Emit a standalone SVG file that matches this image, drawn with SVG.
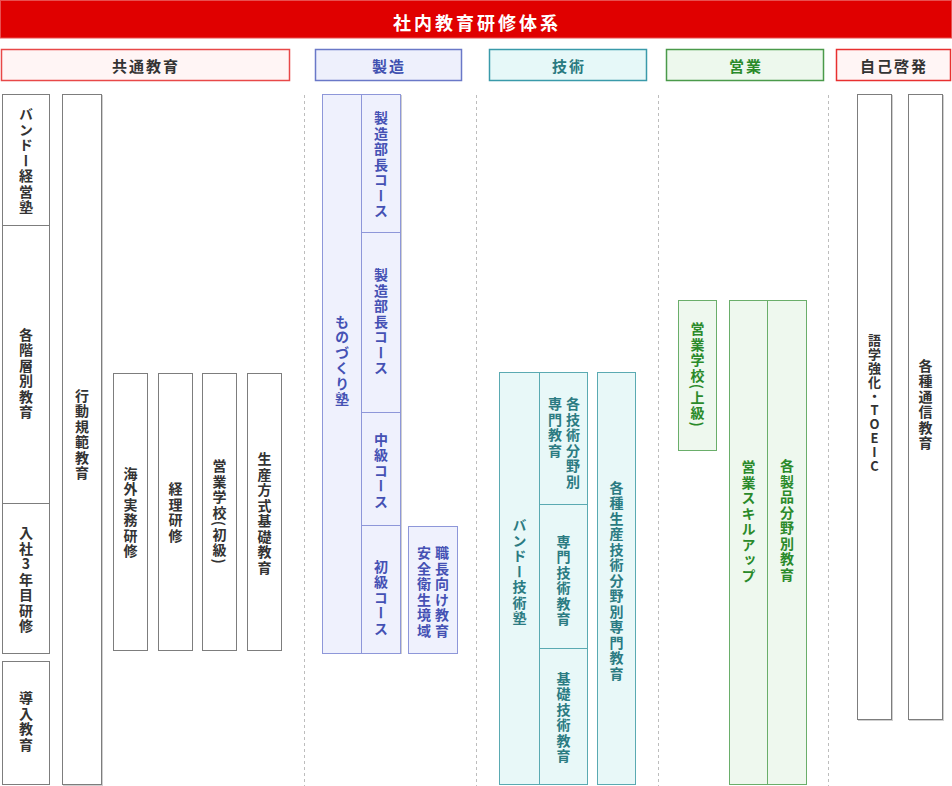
<svg xmlns="http://www.w3.org/2000/svg" width="952" height="786" viewBox="0 0 952 786">
<style>
text{font-family:"Noto Sans CJK JP","Noto Sans CJK SC",sans-serif;font-weight:700}
.v{writing-mode:vertical-rl;text-orientation:upright;text-anchor:middle;font-size:14px;letter-spacing:1.5px}
.vm{writing-mode:vertical-rl;text-orientation:mixed;text-anchor:middle;font-size:14px;letter-spacing:1.5px}
.vs{writing-mode:vertical-rl;text-orientation:upright;text-anchor:start;font-size:14px;letter-spacing:1.5px}
.hd{font-size:15px;text-anchor:middle;dominant-baseline:central;letter-spacing:2px}
.g rect.b{fill:#fff;stroke:#7d7d7d;stroke-width:1}
.g text{fill:#333}
.m rect.b{fill:#eff1fd;stroke:#8e97d9;stroke-width:1}
.m text{fill:#4551b4}
.t rect.b{fill:#e8f8f8;stroke:#5aaab2;stroke-width:1}
.t text{fill:#2b7b82}
.s rect.b{fill:#eef8ee;stroke:#6aae6a;stroke-width:1}
.s text{fill:#2a8a2a}
.sh{fill:none;stroke:#cfcfcf;stroke-width:1}
.dash{stroke:#bdbdbd;stroke-width:1;stroke-dasharray:3 3;fill:none}
</style>
<rect x="0.5" y="0.5" width="951" height="37.5" fill="#e00000" stroke="#e85050"/>
<text x="477" y="22" fill="#fff" font-size="18" text-anchor="middle" dominant-baseline="central" letter-spacing="3">社内教育研修体系</text>

<g id="headers">
<g id="h-common"><rect x="1.5" y="49.5" width="288" height="31" fill="#fff5f5" stroke="#e84848" stroke-width="1.5"/><text class="hd" x="146" y="65" fill="#333">共通教育</text></g>
<g id="h-mfg"><rect x="315.5" y="49.5" width="146" height="31" fill="#eef0fc" stroke="#6a78c8" stroke-width="1.5"/><text class="hd" x="389" y="65" fill="#4050b0">製造</text></g>
<g id="h-tech"><rect x="489.5" y="49.5" width="157" height="31" fill="#e6f8f8" stroke="#3a9aaa" stroke-width="1.5"/><text class="hd" x="569" y="65" fill="#2a7a80">技術</text></g>
<g id="h-sales"><rect x="666.5" y="49.5" width="157" height="31" fill="#edf8ed" stroke="#4a9a4a" stroke-width="1.5"/><text class="hd" x="746" y="65" fill="#2a8a2a">営業</text></g>
<g id="h-self"><rect x="836.5" y="49.5" width="114" height="31" fill="#fff5f5" stroke="#e83030" stroke-width="1.5"/><text class="hd" x="894" y="65" fill="#333">自己啓発</text></g>
</g>

<g id="connectors">
<line class="dash" x1="304.5" y1="95" x2="304.5" y2="786"/>
<line class="dash" x1="476.5" y1="95" x2="476.5" y2="786"/>
<line class="dash" x1="658.5" y1="95" x2="658.5" y2="786"/>
<line class="dash" x1="828.5" y1="95" x2="828.5" y2="786"/>
</g>

<g class="g">
<g id="n-keiei"><rect class="b" x="2.5" y="94.5" width="47" height="131"/><text class="v" x="26" y="161">バンドー経営塾</text></g>
<g id="n-kaiso"><rect class="b" x="2.5" y="225.5" width="47" height="278"/><text class="v" x="26" y="374">各階層別教育</text></g>
<g id="n-3nen"><rect class="b" x="2.5" y="503.5" width="47" height="150"/><text class="v" x="26" y="580">入社3年目研修</text></g>
<g id="n-donyu"><rect class="b" x="2.5" y="661.5" width="47" height="123"/><text class="v" x="26" y="722">導入教育</text></g>
<g id="n-kodo"><rect class="sh" x="63.5" y="95.5" width="39" height="690"/><rect class="b" x="62.5" y="94.5" width="39" height="690"/><text class="v" x="82" y="435">行動規範教育</text></g>
<g id="n-kaigai"><rect class="b" x="113.5" y="373.5" width="34" height="277"/><text class="v" x="130.5" y="513">海外実務研修</text></g>
<g id="n-keiri"><rect class="b" x="158.5" y="373.5" width="34" height="277"/><text class="v" x="175.5" y="513">経理研修</text></g>
<g id="n-eigyo-sho"><rect class="b" x="202.5" y="373.5" width="34" height="277"/><text class="vm" x="219.5" y="512">営業学校(初級)</text></g>
<g id="n-seisan"><rect class="b" x="247.5" y="373.5" width="34" height="277"/><text class="v" x="264.5" y="514">生産方式基礎教育</text></g>
</g>

<g class="m">
<g id="n-monozukuri"><rect class="b" x="322.5" y="94.5" width="39" height="559"/><text class="v" x="342" y="361">ものづくり塾</text></g>
<rect class="sh" x="362.5" y="95.5" width="39" height="558" stroke="#b4bae8"/>
<g id="n-bucho1"><rect class="b" x="361.5" y="94.5" width="39" height="138"/><text class="v" x="381" y="165">製造部長コース</text></g>
<g id="n-bucho2"><rect class="b" x="361.5" y="232.5" width="39" height="180"/><text class="v" x="381" y="322">製造部長コース</text></g>
<g id="n-chukyu"><rect class="b" x="361.5" y="412.5" width="39" height="113"/><text class="v" x="381" y="471">中級コース</text></g>
<g id="n-shokyu"><rect class="b" x="361.5" y="525.5" width="39" height="128"/><text class="v" x="381" y="598">初級コース</text></g>
<g id="n-shokucho"><rect class="b" x="408.5" y="526.5" width="49" height="127"/><text class="vs" x="442" y="546">職長向け教育</text><text class="vs" x="424" y="546">安全衛生境域</text></g>
</g>

<g class="t">
<g id="n-gijutsujuku"><rect class="b" x="499.5" y="372.5" width="40" height="412"/><text class="v" x="519.5" y="572">バンドー技術塾</text></g>
<g id="n-kakugijutsu"><rect class="b" x="539.5" y="372.5" width="48" height="132"/><text class="vs" x="573" y="397">各技術分野別</text><text class="vs" x="555" y="397">専門教育</text></g>
<g id="n-senmon"><rect class="b" x="539.5" y="504.5" width="48" height="144"/><text class="v" x="563.5" y="581">専門技術教育</text></g>
<g id="n-kiso"><rect class="b" x="539.5" y="648.5" width="48" height="136"/><text class="v" x="563.5" y="718">基礎技術教育</text></g>
<g id="n-kakushu"><rect class="b" x="597.5" y="372.5" width="38" height="412"/><text class="v" x="616.5" y="581">各種生産技術分野別専門教育</text></g>
</g>

<g class="s">
<g id="n-eigyo-jo"><rect class="b" x="678.5" y="300.5" width="38" height="150"/><text class="vm" x="697.5" y="375">営業学校(上級)</text></g>
<g id="n-skill"><rect class="b" x="729.5" y="300.5" width="38" height="484"/><text class="v" x="748.5" y="522">営業スキルアップ</text></g>
<g id="n-seihin"><rect class="b" x="767.5" y="300.5" width="39" height="484"/><text class="v" x="787" y="521">各製品分野別教育</text></g>
</g>

<g class="g">
<g id="n-toeic"><rect class="sh" x="858.5" y="95.5" width="34" height="625"/><rect class="b" x="857.5" y="94.5" width="34" height="625"/><text class="v" x="874.5" y="404" style="font-size:13px;letter-spacing:1px">語学強化・TOEIC</text></g>
<g id="n-tsushin"><rect class="sh" x="909.5" y="95.5" width="34" height="625"/><rect class="b" x="908.5" y="94.5" width="34" height="625"/><text class="v" x="925.5" y="405">各種通信教育</text></g>
</g>
</svg>
